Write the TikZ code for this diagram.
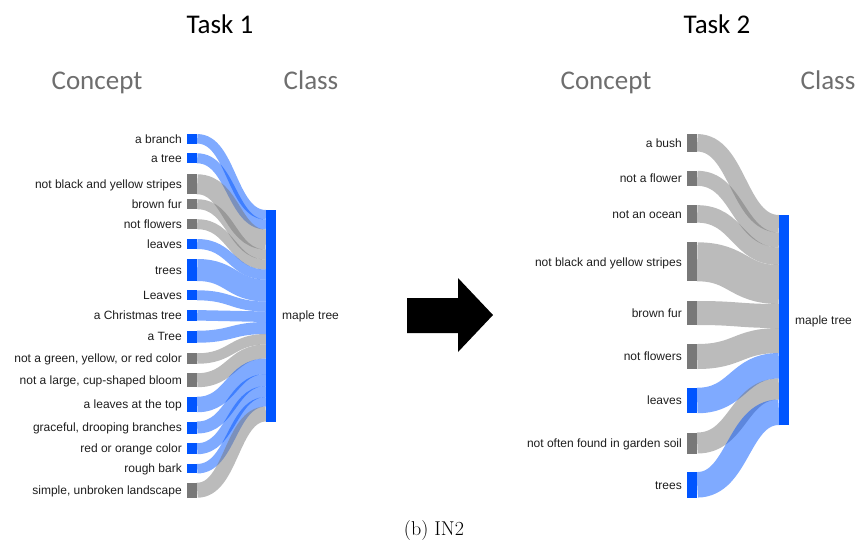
\documentclass[tikz,border=0pt]{standalone}
\usepackage{fontspec}
\newfontfamily\arialf{Liberation Sans}
\newfontfamily\calf{Carlito}
\definecolor{bluebar}{RGB}{0,85,255}
\definecolor{greybar}{RGB}{120,120,120}
\definecolor{headgrey}{RGB}{110,110,110}
\definecolor{labtext}{RGB}{30,30,30}
\begin{document}
\begin{tikzpicture}[x=1pt,y=-1pt,
 bar/.style={rectangle, inner sep=0pt, minimum width=10pt, draw=none},
 lab/.style={anchor=base east, inner sep=0pt, font=\arialf\fontsize{12}{14}\selectfont, text=labtext},
 clslab/.style={anchor=base west, inner sep=0pt, font=\arialf\fontsize{12}{14}\selectfont, text=labtext},
 link/.style={draw opacity=0.5},
 title/.style={font=\calf\fontsize{27}{32}\selectfont, anchor=base, inner sep=0pt},
 head/.style={title, text=headgrey}]
\useasboundingbox (0,0) rectangle (859,542);

% titles
\node[title] (t1) at (220,33) {Task 1};
\node[title] (t2) at (717,33) {Task 2};
\node[head] (c1) at (97,89) {Concept};
\node[head] (k1) at (311,89) {Class};
\node[head] (c2) at (606,89) {Concept};
\node[head] (k2) at (828,89) {Class};

% Task 1 sankey
\foreach \lab/\c/\h/\col/\tc [count=\i] in {
 a branch/138.8/9.5/bluebar/214.75,
 a tree/158.3/10/bluebar/224.5,
 not black and yellow stripes/184.3/20/greybar/239.5,
 brown fur/204.2/10/greybar/254.5,
 not flowers/224.2/10/greybar/264.5,
 leaves/244/10/bluebar/274.5,
 trees/270/22/bluebar/290.5,
 Leaves/295.3/10/bluebar/306.5,
 a Christmas tree/315.3/10.5/bluebar/316.75,
 a Tree/336.7/12/bluebar/328,
 {not a green, yellow, or red color}/358.5/10.5/greybar/339.25,
 {not a large, cup-shaped bloom}/380.2/14/greybar/351.5,
 a leaves at the top/404.5/15.5/bluebar/366.25,
 {graceful, drooping branches}/427.5/12/bluebar/380,
 red or orange color/448.7/11/bluebar/391.5,
 rough bark/468.7/9.5/bluebar/401.75,
 {simple, unbroken landscape}/490.2/15/greybar/414}
{
 \node[bar, fill=\col, minimum height=\h pt] (L\i) at (192,\c) {};
 \node[lab] (LL\i) at (182,\c+4.2) {\lab};
 \coordinate (LT\i) at (266,\tc);
 \draw[link, draw=\col, line width=\h pt] (L\i.east) .. controls +(34.5,0) and +(-34.5,0) .. (LT\i);
}
\node[bar, fill=bluebar, minimum height=211.5pt] (M1) at (271,315.75) {};
\node[clslab] (ML1) at (282,319.95) {maple tree};

% arrow
\fill[black] (407,298) -- (458,298) -- (458,278) -- (493,315) -- (458,352) -- (458,333) -- (407,333) -- cycle;

% Task 2 sankey
\foreach \lab/\c/\h/\col/\tc [count=\i] in {
 a bush/142.8/17.5/greybar/223.75,
 not a flower/178.3/15/greybar/240,
 not an ocean/213.9/17.5/greybar/256.25,
 not black and yellow stripes/261.8/39/greybar/284.5,
 brown fur/313/24/greybar/316,
 not flowers/356.5/25/greybar/340.5,
 leaves/400.5/25.5/bluebar/365.75,
 not often found in garden soil/443/21/greybar/389,
 trees/484.8/25.5/bluebar/412.25}
{
 \node[bar, fill=\col, minimum height=\h pt] (R\i) at (692,\c) {};
 \node[lab] (RL\i) at (682,\c+4.2) {\lab};
 \coordinate (RT\i) at (779,\tc);
 \draw[link, draw=\col, line width=\h pt] (R\i.east) .. controls +(41,0) and +(-41,0) .. (RT\i);
}
\node[bar, fill=bluebar, minimum height=210pt] (M2) at (784,320) {};
\node[clslab] (ML2) at (795,324.2) {maple tree};

% caption
\node[anchor=base, inner sep=0pt, font=\fontsize{20}{24}\selectfont] (cap) at (434,535) {(b) IN2};
\end{tikzpicture}
\end{document}
